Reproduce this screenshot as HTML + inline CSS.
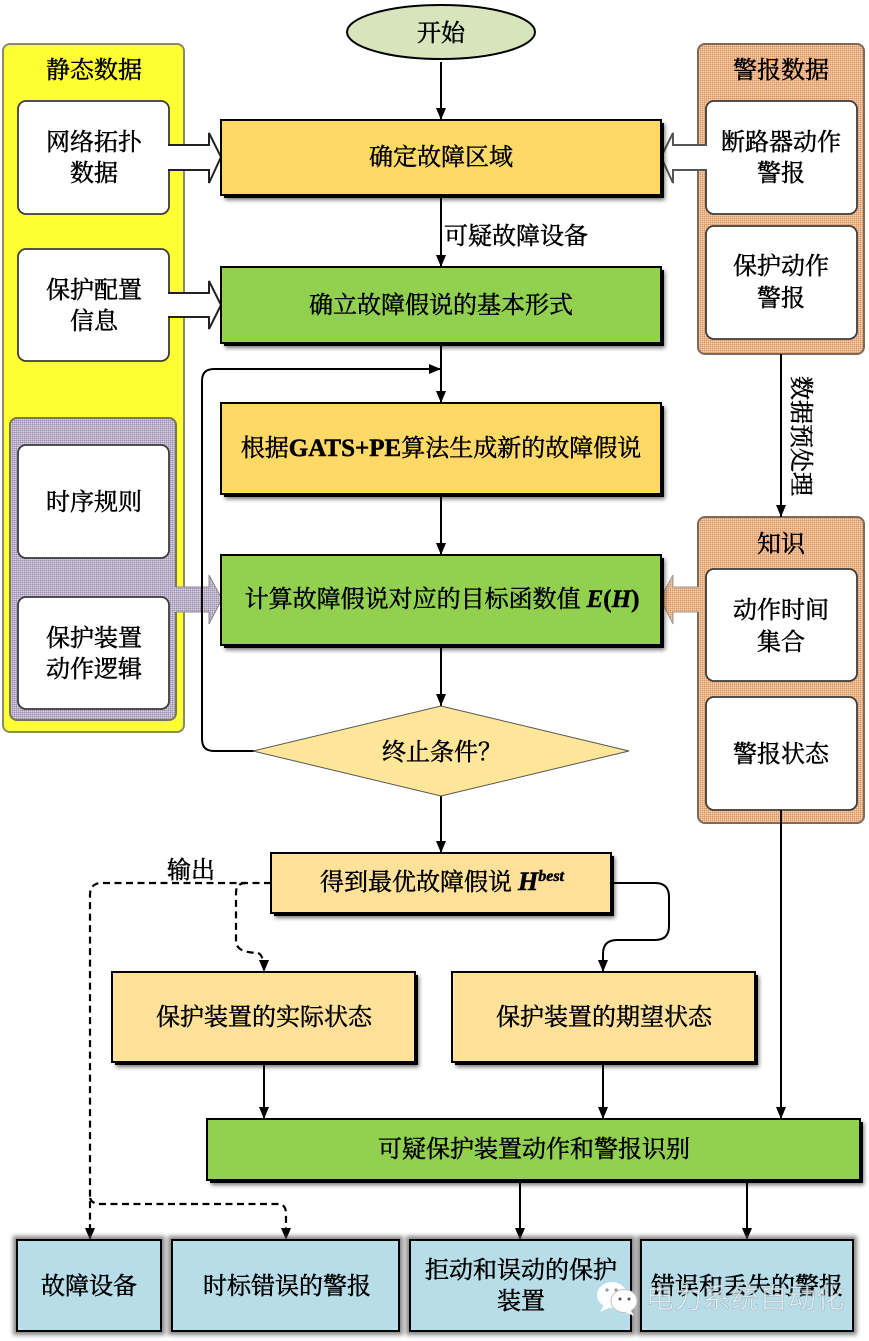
<!DOCTYPE html>
<html><head><meta charset="utf-8"><style>
html,body{margin:0;padding:0;background:#fff}
svg{display:block}
text{font-family:"Liberation Serif","Noto Serif CJK SC",serif;font-size:24px;fill:#000;stroke:#000;stroke-width:.5;text-anchor:middle}
.w{fill:#fff;stroke:#3c3c3c;stroke-width:1.8}
.b{stroke:#000;stroke-width:2}
.l{fill:none;stroke:#000;stroke-width:2}
.d{fill:none;stroke:#000;stroke-width:2.2;stroke-dasharray:7 4.5}
.lat{font-weight:bold;font-size:25px}
</style></head><body>
<svg width="869" height="1341" viewBox="0 0 869 1341" xmlns="http://www.w3.org/2000/svg">
<defs>
<pattern id="py" width="2" height="2" patternUnits="userSpaceOnUse"><rect width="2" height="2" fill="#ffff2e"/><rect width="1" height="1" fill="#ffff40"/></pattern>
<pattern id="pp" width="2" height="2" patternUnits="userSpaceOnUse"><rect width="2" height="2" fill="#bab0ca"/><rect width="1" height="1" fill="#9c8fb0"/><rect x="1" y="1" width="1" height="1" fill="#d8d2e0"/></pattern>
<pattern id="po" width="2" height="2" patternUnits="userSpaceOnUse"><rect width="2" height="2" fill="#ecb48a"/><rect width="1" height="1" fill="#d9955f"/><rect x="1" y="1" width="1" height="1" fill="#f7cfae"/></pattern>
<marker id="a" markerUnits="userSpaceOnUse" markerWidth="14" markerHeight="12" refX="12" refY="5" orient="auto"><path d="M0 0L12 5L0 10Z" fill="#000"/></marker>
<filter id="blur" x="-5%" y="-5%" width="110%" height="110%"><feGaussianBlur stdDeviation="2"/></filter>
</defs>

<!-- side panels -->
<rect x="3" y="44" width="181" height="688" rx="7" fill="url(#py)" stroke="#8a8a6a" stroke-width="2"/>
<rect x="10" y="418" width="166" height="302" rx="7" fill="url(#pp)" stroke="#77775a" stroke-width="2"/>
<rect x="698" y="44" width="166" height="310" rx="7" fill="url(#po)" stroke="#7f6a5a" stroke-width="2"/>
<rect x="698" y="517" width="166" height="306" rx="7" fill="url(#po)" stroke="#7f6a5a" stroke-width="2"/>

<rect class="w" x="18" y="101" width="151" height="113" rx="8"/>
<rect class="w" x="18" y="249" width="151" height="112" rx="8"/>
<rect class="w" x="18" y="445" width="151" height="113" rx="8"/>
<rect class="w" x="18" y="597" width="151" height="112" rx="8"/>
<rect class="w" x="706" y="101" width="151" height="113" rx="8"/>
<rect class="w" x="706" y="226" width="151" height="113" rx="8"/>
<rect class="w" x="706" y="569" width="151" height="112" rx="8"/>
<rect class="w" x="706" y="697" width="151" height="113" rx="8"/>

<!-- block arrows -->
<path d="M167 146H209V133L221 157L209 183V169H167Z" fill="#fff"/>
<path d="M168 145H209V133L221 157L209 183V170H168" fill="none" stroke="#222" stroke-width="2"/>
<path d="M167 294H209V281L221 305L209 329V316H167Z" fill="#fff"/>
<path d="M168 293H209V281L221 305L209 329V317H168" fill="none" stroke="#222" stroke-width="2"/>
<path d="M174 587H209V575L222 599L209 624V612H174Z" fill="url(#pp)"/>
<path d="M176 587H209V575L222 599L209 624V612H176" fill="none" stroke="#888" stroke-width="1"/>
<path d="M708 146H673V133L661 157L673 183V169H708Z" fill="#fff"/>
<path d="M706 145H673V133L661 157L673 183V170H706" fill="none" stroke="#555" stroke-width="2"/>
<path d="M699 587H673V575L660 599L673 624V612H699Z" fill="url(#po)"/>
<path d="M698 587H673V575L660 599L673 624V612H698" fill="none" stroke="#999" stroke-width="1"/>

<!-- connectors -->
<g class="cons">
<path class="l" d="M441 62V120" marker-end="url(#a)"/>
<path class="l" d="M441 195V267" marker-end="url(#a)"/>
<path class="l" d="M441 343V403" marker-end="url(#a)"/>
<path class="l" d="M254 751H214Q202 751 202 739V381Q202 369 214 369H441" marker-end="url(#a)"/>
<path class="l" d="M441 494V555" marker-end="url(#a)"/>
<path class="l" d="M441 645V706" marker-end="url(#a)"/>
<path class="l" d="M441 796V853" marker-end="url(#a)"/>
<path class="l" d="M781 354V517" marker-end="url(#a)"/>
<path class="l" d="M781 810V1119" marker-end="url(#a)"/>
<path class="l" d="M611 883H655Q669 883 669 897V926Q669 940 655 940H617Q603 940 603 954V972" marker-end="url(#a)"/>
<path class="d" d="M271 883H102Q90 883 90 895V1240" marker-end="url(#a)"/>
<path class="d" d="M246 883Q236 883 236 893V941Q236 948 244 951Q252 953 258 953Q264 955 264 972" marker-end="url(#a)"/>
<path class="d" d="M90 1198Q92 1204 100 1204H278Q286 1204 286 1214V1240" marker-end="url(#a)"/>
<path class="l" d="M264 1062V1119" marker-end="url(#a)"/>
<path class="l" d="M603 1062V1119" marker-end="url(#a)"/>
<path class="l" d="M520 1180V1240" marker-end="url(#a)"/>
<path class="l" d="M747 1180V1240" marker-end="url(#a)"/>
</g>

<!-- start -->
<ellipse cx="441" cy="32" rx="94" ry="27" fill="#d8e4bc" stroke="#000" stroke-width="2"/>

<!-- shadows -->
<g fill="#000" filter="url(#blur)" opacity=".55">
<rect x="225" y="124" width="440" height="76"/>
<rect x="225" y="271" width="440" height="77"/>
<rect x="225" y="407" width="440" height="92"/>
<rect x="225" y="559" width="440" height="91"/>
<rect x="275" y="857" width="340" height="61"/>
<rect x="116" y="976" width="303" height="91"/>
<rect x="456" y="976" width="303" height="91"/>
<rect x="211" y="1123" width="653" height="62"/>
</g>
<g fill="#000">
<rect x="224" y="123" width="440" height="75"/>
<rect x="224" y="270" width="440" height="76"/>
<rect x="224" y="406" width="440" height="91"/>
<rect x="224" y="558" width="440" height="90"/>
<rect x="274" y="856" width="340" height="60"/>
<rect x="115" y="975" width="303" height="90"/>
<rect x="455" y="975" width="303" height="90"/>
<rect x="210" y="1122" width="653" height="61"/>
</g>
<g fill="#555" filter="url(#blur)" opacity=".7">
<rect x="13" y="1236" width="152" height="99"/>
<rect x="168" y="1236" width="235" height="99"/>
<rect x="406" y="1236" width="229" height="99"/>
<rect x="637" y="1236" width="220" height="99"/>
</g>

<!-- boxes -->
<rect class="b" x="221" y="120" width="440" height="75" fill="#ffd966"/>
<rect class="b" x="221" y="267" width="440" height="76" fill="#92d050"/>
<rect class="b" x="221" y="403" width="440" height="91" fill="#ffd966"/>
<rect class="b" x="221" y="555" width="440" height="90" fill="#92d050"/>
<path d="M253 751L441 706L629 751L441 796Z" fill="#ffe699" stroke="#555" stroke-width="1"/>
<rect class="b" x="271" y="853" width="340" height="60" fill="#ffe199"/>
<rect class="b" x="112" y="972" width="303" height="90" fill="#ffe199"/>
<rect class="b" x="452" y="972" width="303" height="90" fill="#ffe199"/>
<rect class="b" x="207" y="1119" width="653" height="61" fill="#92d050"/>
<rect class="b" x="17" y="1240" width="144" height="91" fill="#b7dde8"/>
<rect class="b" x="172" y="1240" width="227" height="91" fill="#b7dde8"/>
<rect class="b" x="410" y="1240" width="221" height="91" fill="#b7dde8"/>
<rect class="b" x="641" y="1240" width="212" height="91" fill="#b7dde8"/>

<!-- labels -->
<text x="441" y="41">开始</text>
<text x="94" y="78">静态数据</text>
<text x="94" y="150">网络拓扑</text>
<text x="94" y="181">数据</text>
<text x="94" y="298">保护配置</text>
<text x="94" y="329">信息</text>
<text x="94" y="510">时序规则</text>
<text x="94" y="646">保护装置</text>
<text x="94" y="677">动作逻辑</text>
<text x="781" y="78">警报数据</text>
<text x="781" y="150">断路器动作</text>
<text x="781" y="181">警报</text>
<text x="781" y="274">保护动作</text>
<text x="781" y="306">警报</text>
<text x="781" y="552">知识</text>
<text x="781" y="618">动作时间</text>
<text x="781" y="650">集合</text>
<text x="781" y="762">警报状态</text>
<text x="441" y="165">确定故障区域</text>
<text x="516" y="244">可疑故障设备</text>
<text x="441" y="313">确立故障假说的基本形式</text>
<text x="441" y="456">根据<tspan class="lat">GATS+PE</tspan>算法生成新的故障假说</text>
<text x="442" y="607">计算故障假说对应的目标函数值 <tspan class="lat" font-style="italic">E</tspan><tspan class="lat">(</tspan><tspan class="lat" font-style="italic">H</tspan><tspan class="lat">)</tspan></text>
<text x="442" y="760">终止条件？</text>
<text x="442" y="890">得到最优故障假说 <tspan class="lat" font-style="italic" style="font-size:26px">H</tspan><tspan class="lat" font-style="italic" style="font-size:16px" dy="-9">best</tspan></text>
<text x="191" y="878">输出</text>
<text x="264" y="1025">保护装置的实际状态</text>
<text x="604" y="1025">保护装置的期望状态</text>
<text x="534" y="1157">可疑保护装置动作和警报识别</text>
<text x="89" y="1294">故障设备</text>
<text x="287" y="1294">时标错误的警报</text>
<text x="521" y="1278">拒动和误动的保护</text>
<text x="521" y="1309">装置</text>
<text x="747" y="1294">错误和丢失的警报</text>
<text transform="translate(793,436) rotate(90)" x="0" y="0">数据预处理</text>

<!-- watermark -->
<g>
<ellipse cx="612" cy="1295" rx="15" ry="13" fill="#fff" opacity=".95"/>
<path d="M604 1305L600 1312L611 1307Z" fill="#fff"/>
<ellipse cx="624" cy="1301" rx="13" ry="11.500" fill="#fff" stroke="#c4c4c4" stroke-width="1"/>
<path d="M631 1310L634 1316L625 1312Z" fill="#fff"/>
<circle cx="607" cy="1290" r="1.600" fill="#999"/><circle cx="616" cy="1290" r="1.600" fill="#999"/>
<circle cx="620" cy="1299" r="1.500" fill="#555"/><circle cx="629" cy="1299" r="1.500" fill="#555"/>
<text x="745" y="1308" style="font-family:'Liberation Sans','Noto Sans CJK SC',sans-serif;font-size:28.400px;fill:#e8eff2;stroke:#9aa9b0;stroke-width:.5;opacity:.8">电力系统自动化</text>
</g>
</svg>
</body></html>
